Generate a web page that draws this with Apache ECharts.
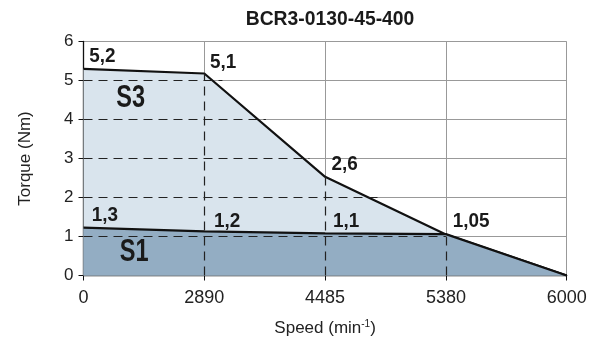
<!DOCTYPE html>
<html><head><meta charset="utf-8">
<script src="https://cdn.jsdelivr.net/npm/echarts@6/dist/echarts.min.js"></script>
<style>html,body{margin:0;padding:0;background:#fff}#c{width:597px;height:342px}</style>
</head><body><div id="c"></div>
<script>
const title = 'BCR3-0130-45-400';
const speedTicks = ['0', '2890', '4485', '5380', '6000'];
const s3Values = [5.3, 5.18, 2.53, 1.05, 0];
const s1Values = [1.23, 1.13, 1.08, 1.06, 0];
const s3Labels = ['5,2', '5,1', '2,6', '1,05'];
const s1Labels = ['1,3', '1,2', '1,1'];
const dashH = [[5, 1.15], [4, 1.51], [3, 1.87], [2, 2.46], [1, 3]];
const dashV = [[1, 5.18], [2, 2.53], [3, 1.05]];

const FONT = "'Liberation Sans', Arial, sans-serif";
const chart = echarts.init(document.getElementById('c'), null, {renderer: 'canvas'});
const toPts = vals => vals.map((v, i) => [i, v]);

const markData = [];
dashH.forEach(([y, xe]) => markData.push([{coord: [0, y]}, {coord: [xe, y]}]));
dashV.forEach(([x, ye]) => markData.push([{coord: [x, 0]}, {coord: [x, ye]}]));

chart.setOption({
  animation: false,
  grid: {left: 83.5, right: 30.3, top: 41.5, bottom: 65.5},
  xAxis: {
    type: 'value', min: 0, max: 4, interval: 1,
    name: '{a|Speed (min}{s|-1}{a|)}', nameLocation: 'middle', nameGap: 44,
    nameTextStyle: {rich: {a: {fontFamily: FONT, fontSize: 17, color: '#222'}, s: {fontFamily: FONT, fontSize: 10, color: '#222', verticalAlign: 'top', padding: [0,0,8,0]}}},
    axisLine: {lineStyle: {color: '#111', width: 1.3}},
    axisTick: {show: true, length: 5, lineStyle: {color: '#111', width: 1}},
    axisLabel: {formatter: v => speedTicks[v], fontFamily: FONT, fontSize: 18, color: '#222', margin: 14},
    splitLine: {show: true, lineStyle: {color: '#999', width: 1}}
  },
  yAxis: {
    type: 'value', min: 0, max: 6, interval: 1,
    name: 'Torque (Nm)', nameLocation: 'middle', nameGap: 50, nameRotate: 90,
    nameTextStyle: {fontFamily: FONT, fontSize: 17, color: '#222'},
    axisLine: {show: true, lineStyle: {color: '#111', width: 1.3}},
    axisTick: {show: true, length: 5, lineStyle: {color: '#111', width: 1}},
    axisLabel: {fontFamily: FONT, fontSize: 17, color: '#222', margin: 10},
    splitLine: {show: true, lineStyle: {color: '#999', width: 1}}
  },
  series: [
    {type: 'line', data: toPts(s3Values), symbol: 'none', z: 2,
     lineStyle: {color: '#111', width: 2.2}, areaStyle: {color: '#d9e4ed', opacity: 1}},
    {type: 'line', data: toPts(s1Values), symbol: 'none', z: 3,
     lineStyle: {color: '#111', width: 2.2}, areaStyle: {color: '#93adc3', opacity: 1}},
    {type: 'line', data: [], z: 4,
     markLine: {silent: true, symbol: 'none', label: {show: false},
       lineStyle: {color: '#222', width: 1.2, type: [9, 6]}, data: markData}}
  ]
});

const s3Off = [[5.8, -12.9], [5.7, -11.7], [6.5, -13.1], [6.8, -13.3]];
const s1Off = [[8.2, -12.8], [9.7, -10.6], [7.8, -12.1]];
const g = [];
const txt = (x, y, t, size, align, sx) => ({type: 'text', x: x, y: y, z: 10, scaleX: sx,
  style: {text: t, fontFamily: FONT, fontSize: size, fontWeight: 'bold', fill: '#1a1a1a', align: align, verticalAlign: 'middle'}});
function addLabels(labels, vals, offs) {
  labels.forEach((t, i) => {
    const p = chart.convertToPixel({gridIndex: 0}, [i, vals[i]]);
    g.push(txt(p[0] + offs[i][0], p[1] + offs[i][1], t, 21, 'left', 0.9));
  });
}
addLabels(s3Labels, s3Values, s3Off);
addLabels(s1Labels, s1Values, s1Off);
const pS3 = chart.convertToPixel({gridIndex: 0}, [0.39, 4.54]);
const pS1 = chart.convertToPixel({gridIndex: 0}, [0.42, 0.58]);
g.push(txt(pS3[0], pS3[1], 'S3', 31, 'center', 0.76));
g.push(txt(pS1[0], pS1[1], 'S1', 31, 'center', 0.76));
g.push(txt(330, 19.5, title, 21, 'center', 0.92));
chart.setOption({graphic: g});
</script></body></html>
